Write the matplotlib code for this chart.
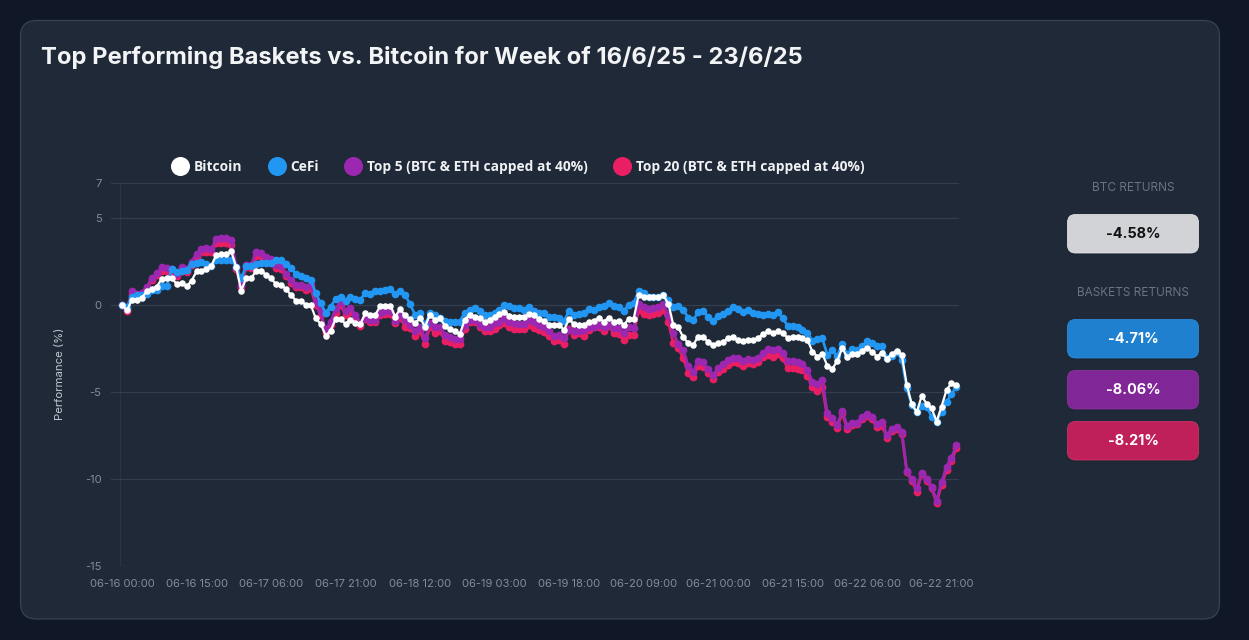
import matplotlib
matplotlib.use("Agg")
import matplotlib.pyplot as plt
from matplotlib.lines import Line2D
from matplotlib.patches import FancyBboxPatch

W, H = 1249, 640

bitcoin = [0, -0.31, 0.29, 0.29, 0.42, 0.77, 0.92, 1.05, 1.49, 1.53,
           1.53, 1.21, 1.25, 1.07, 1.38, 1.92, 1.97, 2.07, 2.26, 2.87,
           2.91, 2.91, 3.07, 2.15, 0.82, 1.53, 1.53, 1.95, 1.97, 1.72,
           1.53, 1.19, 1.15, 0.92, 0.57, 0.25, 0.23, 0, 0, -0.77,
           -1.09, -1.76, -1.49, -0.82, -0.82, -1.09, -0.86, -1.03, -1.09, -0.48,
           -0.61, -0.57, -0.06, -0.04, -0.04, -0.67, -0.25, -0.61, -0.82, -1.05,
           -0.77, -1.25, -0.57, -0.86, -0.77, -1.19, -1.40, -1.53, -1.69, -0.86,
           -0.57, -0.67, -0.77, -0.96, -0.86, -0.71, -0.54, -0.42, -0.63, -0.67,
           -0.67, -0.67, -0.52, -0.61, -0.82, -0.90, -1.15, -1.15, -1.15, -1.44,
           -0.82, -1.11, -1.15, -1.15, -0.96, -0.90, -0.77, -0.96, -0.73, -0.96,
           -0.90, -1.15, -0.82, -0.82, 0.54, 0.44, 0.44, 0.44, 0.44, 0.54,
           0.06, -1.15, -1.30, -1.86, -2.20, -2.30, -1.82, -1.86, -2.11, -2.30,
           -2.20, -2.11, -1.92, -1.86, -2.01, -2.07, -2.01, -2.01, -1.92, -1.69,
           -1.53, -1.63, -1.53, -1.63, -1.88, -1.82, -1.86, -1.92, -2.01, -2.68,
           -2.97, -2.82, -3.49, -3.68, -3.22, -2.49, -3.01, -2.82, -2.84, -2.63,
           -2.49, -2.68, -2.97, -2.74, -3.10, -2.82, -2.64, -2.87, -4.60, -5.69,
           -6.17, -5.23, -5.69, -5.94, -6.70, -5.84, -4.89, -4.50, -4.58]

cefi = [0, -0.10, 0.48, 0.54, 0.57, 0.63, 0.86, 0.86, 1.09, 1.09,
        2.05, 1.86, 1.92, 2.01, 2.36, 2.39, 2.45, 2.36, 2.24, 2.55,
        2.55, 2.57, 2.59, 2.17, 1.53, 2.24, 2.24, 2.36, 2.39, 2.39,
        2.39, 2.59, 2.59, 2.36, 2.11, 1.78, 1.67, 1.53, 1.44, 0.67,
        0.10, -0.44, -0.10, 0.34, 0.48, 0.23, 0.44, 0.33, 0.29, 0.71,
        0.63, 0.77, 0.77, 0.86, 0.90, 0.63, 0.77, 0.57, 0.04, -0.57,
        -0.48, -1.15, -0.48, -0.57, -0.77, -0.92, -0.96, -1.00, -0.96, -0.44,
        -0.29, -0.19, -0.38, -0.61, -0.61, -0.48, -0.29, 0, -0.04, -0.19,
        -0.19, -0.29, -0.13, -0.33, -0.44, -0.48, -0.67, -0.71, -0.77, -0.90,
        -0.38, -0.57, -0.52, -0.44, -0.25, -0.29, -0.10, -0.04, 0.10, -0.06,
        -0.10, -0.33, 0, 0.10, 0.77, 0.71, 0.44, 0.48, 0.48, 0.57,
        0.29, -0.10, -0.04, -0.29, -0.73, -0.86, -0.42, -0.38, -0.67, -0.92,
        -0.63, -0.52, -0.34, -0.13, -0.25, -0.42, -0.29, -0.44, -0.54, -0.61,
        -0.52, -0.57, -0.42, -0.77, -1.19, -1.19, -1.28, -1.44, -1.63, -2.05,
        -1.97, -1.93, -2.87, -2.62, -2.93, -2.24, -2.82, -2.55, -2.59, -2.39,
        -2.07, -2.20, -2.39, -2.36, -3.07, -2.93, -2.68, -3.16, -4.79, -5.75,
        -6.13, -5.80, -5.84, -6.42, -6.70, -6.13, -5.59, -5.11, -4.71]

top5 = [0, -0.25, 0.77, 0.63, 0.71, 1.05, 1.53, 1.82, 2.16, 2.11,
        2.05, 1.78, 2.16, 2.05, 2.49, 2.93, 3.20, 3.24, 3.22, 3.77,
        3.83, 3.83, 3.70, 2.20, 1.15, 2.30, 2.30, 3.01, 2.97, 2.74,
        2.62, 2.30, 2.24, 1.78, 1.44, 1.15, 1.15, 1.02, 1.15, 0.19,
        -0.38, -1.44, -0.96, -0.25, 0.19, -0.38, -0.19, -0.57, -1.05, -0.77,
        -0.86, -0.86, -0.48, -0.34, -0.34, -0.90, -0.57, -0.86, -1.15, -1.49,
        -1.25, -1.92, -1.05, -1.28, -1.25, -1.72, -1.82, -1.95, -1.95, -1.15,
        -0.86, -0.86, -1.15, -1.28, -1.25, -1.05, -0.96, -0.73, -0.96, -1.05,
        -1.09, -1.09, -0.86, -0.96, -1.15, -1.25, -1.53, -1.76, -1.72, -1.92,
        -1.44, -1.53, -1.53, -1.47, -1.28, -1.25, -1.15, -1.25, -1.15, -1.34,
        -1.34, -1.63, -1.28, -1.34, 0.04, -0.13, -0.25, -0.19, -0.13, 0.04,
        -0.57, -1.63, -2.24, -2.59, -3.54, -3.83, -3.22, -3.31, -3.70, -4.02,
        -3.64, -3.41, -3.16, -3.03, -3.07, -3.22, -3.12, -3.16, -3.07, -2.78,
        -2.55, -2.62, -2.53, -2.74, -3.20, -3.20, -3.31, -3.39, -3.74, -4.41,
        -4.54, -4.31, -6.23, -6.48, -6.90, -6.09, -6.94, -6.80, -6.76, -6.42,
        -6.28, -6.46, -6.86, -6.74, -7.47, -7.15, -7.03, -7.28, -9.52, -10.02,
        -10.54, -9.64, -10.00, -10.44, -11.24, -10.19, -9.29, -8.77, -8.06]

top20 = [0, -0.38, 0.63, 0.54, 0.60, 0.95, 1.40, 1.70, 1.97, 1.97,
         1.92, 1.63, 1.97, 1.86, 2.30, 2.74, 3.01, 3.05, 3.03, 3.54,
         3.58, 3.58, 3.45, 2.05, 1.05, 2.16, 2.11, 2.82, 2.78, 2.55,
         2.43, 2.11, 2.05, 1.63, 1.28, 1.00, 1.00, 0.86, 0.96, 0,
         -0.57, -1.59, -1.15, -0.48, 0, -0.57, -0.42, -0.77, -1.19, -0.80,
         -1.00, -1.00, -0.57, -0.52, -0.52, -1.05, -0.77, -1.25, -1.34, -1.78,
         -1.53, -2.24, -1.25, -1.63, -1.53, -2.05, -2.11, -2.24, -2.24, -1.40,
         -0.96, -1.00, -1.28, -1.49, -1.49, -1.40, -1.15, -1.05, -1.28, -1.40,
         -1.40, -1.40, -1.15, -1.34, -1.44, -1.57, -1.76, -2.05, -2.01, -2.24,
         -1.40, -1.72, -1.63, -1.76, -1.44, -1.28, -1.25, -1.49, -1.21, -1.63,
         -1.67, -2.01, -1.72, -1.72, -0.29, -0.54, -0.57, -0.54, -0.48, -0.29,
         -1.00, -2.20, -2.49, -3.07, -3.89, -4.12, -3.51, -3.58, -3.93, -4.27,
         -3.83, -3.70, -3.45, -3.26, -3.35, -3.51, -3.35, -3.39, -3.26, -2.97,
         -2.87, -2.97, -2.82, -3.07, -3.60, -3.60, -3.70, -3.74, -4.06, -4.73,
         -4.92, -4.69, -6.46, -6.70, -7.05, -6.23, -7.13, -6.90, -6.84, -6.55,
         -6.38, -6.57, -7.03, -6.93, -7.62, -7.22, -7.13, -7.41, -9.58, -10.10,
         -10.73, -9.71, -10.10, -10.54, -11.36, -10.34, -9.48, -8.97, -8.21]

hours = list(range(len(bitcoin)))
assert all(len(s) == 169 for s in (bitcoin, cefi, top5, top20))

x_tick_hours = [0, 15, 30, 45, 60, 75, 90, 105, 120, 135, 150, 165]
x_tick_labels = ["06-16 00:00", "06-16 15:00", "06-17 06:00", "06-17 21:00",
                 "06-18 12:00", "06-19 03:00", "06-19 18:00", "06-20 09:00",
                 "06-21 00:00", "06-21 15:00", "06-22 06:00", "06-22 21:00"]
y_ticks = [-15, -10, -5, 0, 5, 7]
series_names = ["Bitcoin", "CeFi", "Top 5 (BTC & ETH capped at 40%)",
                "Top 20 (BTC & ETH capped at 40%)"]
series_colors = ["#ffffff", "#2196f3", "#9c27b0", "#e91e63"]
btc_return = "-4.58%"
basket_returns = ["-4.71%", "-8.06%", "-8.21%"]
title = "Top Performing Baskets vs. Bitcoin for Week of 16/6/25 - 23/6/25"

UI = ["Inter", "DejaVu Sans"]
LEG = ["Open Sans", "DejaVu Sans"]

fig = plt.figure(figsize=(W / 100, H / 100), dpi=100, facecolor="#101828")

bg = fig.add_axes([0, 0, 1, 1], zorder=0)
bg.set_xlim(0, W)
bg.set_ylim(H, 0)
bg.axis("off")
bg.add_patch(FancyBboxPatch((20.5, 20.5), 1199, 598.5,
                            boxstyle="round,pad=0,rounding_size=16",
                            fc="#1f2937", ec="#374151", lw=0.9))
bg.text(41, 57.6, title, fontsize=17.12, fontweight="bold", color="#f3f4f6",
        family=UI, va="center", ha="left")

# right-hand return panels
box_x, box_w, box_h, px_r = 1067.5, 131, 38.5, 8
def panel(y, txt, fc, ec, tc):
    bg.add_patch(FancyBboxPatch((box_x, y + 2), box_w, box_h,
                                boxstyle=f"round,pad=0,rounding_size={px_r}",
                                fc="#182230", ec="none", alpha=0.55))
    bg.add_patch(FancyBboxPatch((box_x, y), box_w, box_h,
                                boxstyle=f"round,pad=0,rounding_size={px_r}",
                                fc=fc, ec=ec, lw=0.6))
    bg.text(box_x + box_w / 2, y + box_h / 2 + 0.5, txt, fontsize=10.4, fontweight="bold",
            color=tc, family=UI, ha="center", va="center")

bg.text(1133, 188, "BTC RETURNS", fontsize=8.5, color="#6b7280", family=UI,
        ha="center", va="center")
bg.text(1133, 293, "BASKETS RETURNS", fontsize=8.5, color="#6b7280", family=UI,
        ha="center", va="center")
panel(214.5, btc_return, "#d1d3d6", "#e0e1e3", "#111111")
panel(319.5, basket_returns[0], "#2080d0", "#2a8ad8", "#ffffff")
panel(370.5, basket_returns[1], "#802696", "#8c359f", "#ffffff")
panel(421.5, basket_returns[2], "#c0205a", "#c93466", "#ffffff")

# main chart
L, R, T, B = 111, 959, 183, 566
ax = fig.add_axes([L / W, 1 - B / H, (R - L) / W, (B - T) / H], zorder=1)
ax.patch.set_alpha(0)
X0, PXH = 122, 4.967
ax.set_xlim((L - X0) / PXH, (R - X0) / PXH)
ax.set_ylim(-15, 7)
for s in ax.spines.values():
    s.set_visible(False)
ax.set_yticks(y_ticks)
ax.set_xticks(x_tick_hours)
ax.set_xticklabels(x_tick_labels)
ax.tick_params(axis="both", length=0, labelsize=8.1, labelcolor="#838c9a")
ax.tick_params(axis="x", pad=9.5)
ax.tick_params(axis="y", pad=6.8)
for t in ax.get_xticklabels() + ax.get_yticklabels():
    t.set_family(UI)
ax.yaxis.set_major_formatter(matplotlib.ticker.FuncFormatter(lambda v, p: f"{v:.0f}"))
ax.grid(axis="y", color="#374151", lw=0.9, alpha=0.85)
ax.axvline((119.5 - X0) / PXH, color="#2b3544", lw=0.8, zorder=0.5)
ax.set_axisbelow(True)
ax.set_ylabel("Performance (%)", fontsize=8.2, color="#c3c8cf", family=UI, labelpad=0)
ax.yaxis.set_label_coords((64.5 - L) / (R - L), (B - 374) / (B - T))

values = [bitcoin, cefi, top5, top20]
zorders = [6, 5, 4, 3]
line_widths = [1.6, 1.9, 2.0, 2.0]
marker_sizes = [4.7, 5.5, 5.6, 5.6]
for vals, col, z, lw, ms, name in zip(values, series_colors, zorders, line_widths,
                                      marker_sizes, series_names):
    ax.plot(hours, vals, color=col, lw=lw, marker="o", ms=ms, mew=0,
            zorder=z, label=name, clip_on=False)

handles = [Line2D([], [], color="none", marker="o", ms=13.7, mew=0, mfc=c)
           for c in series_colors]
FS = 9.95
leg = ax.legend(handles, series_names, ncol=4, frameon=False,
                loc="center left", bbox_to_anchor=(170.5 / W, 1 - 167 / H),
                bbox_transform=fig.transFigure, borderpad=0, borderaxespad=0,
                handlelength=1.38, handletextpad=0.3, columnspacing=1.8,
                prop={"family": LEG, "size": FS, "weight": "bold"})
for t in leg.get_texts():
    t.set_color("#f0f1f3")

fig.savefig("out.png", dpi=100, facecolor=fig.get_facecolor())
